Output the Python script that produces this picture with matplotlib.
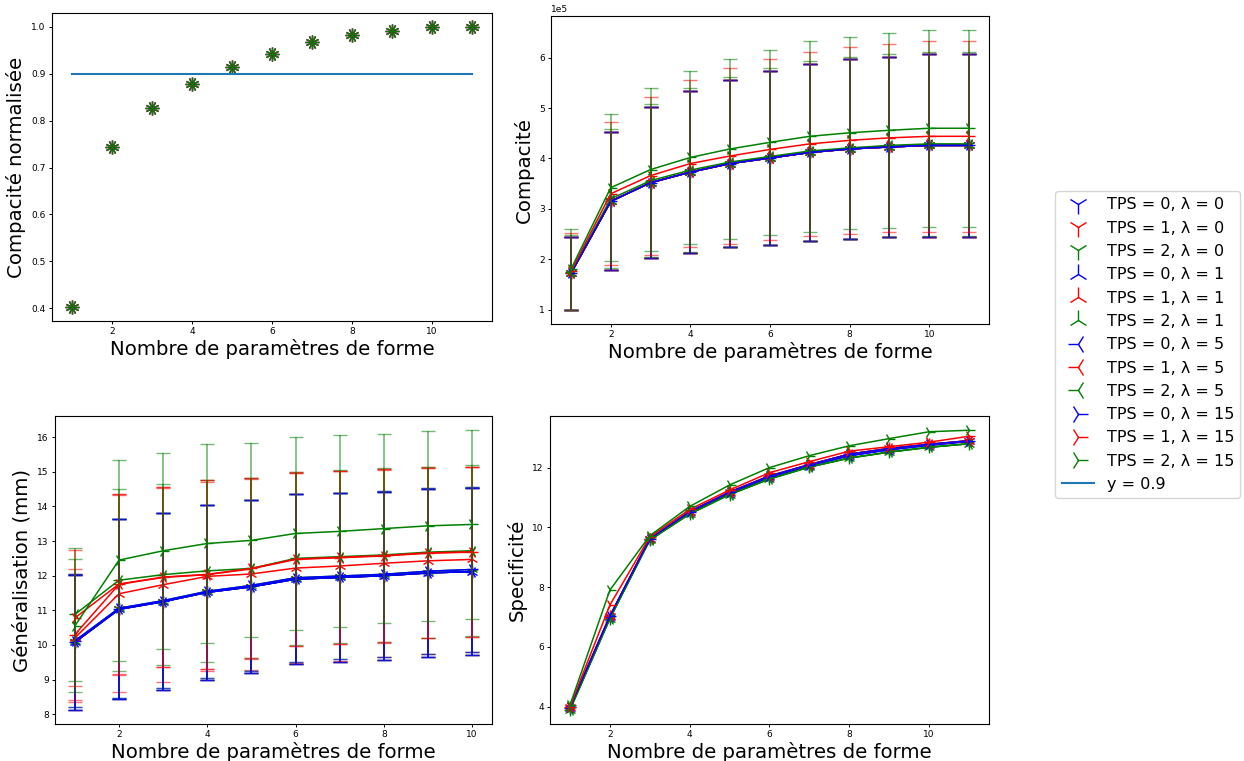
import matplotlib
matplotlib.use('Agg')
import matplotlib.pyplot as plt
import numpy as np

tps_values = [0, 1, 2]
lambdas = [0, 1, 5, 15]
colors = ['blue', 'red', 'green']
markers = ['1', '2', '3', '4']   # one tri marker per lambda

n_params = [1, 2, 3, 4, 5, 6, 7, 8, 9, 10, 11]
n_params_gen = [1, 2, 3, 4, 5, 6, 7, 8, 9, 10]

# --- compacite normalisee (toutes les configs quasi identiques)
norm_compact = [0.402, 0.743, 0.826, 0.879, 0.915, 0.943, 0.967, 0.982, 0.992, 1.0, 1.0]
threshold = 0.9

# --- compacite (x 1e5)
comp_low = [1.72, 3.15, 3.52, 3.73, 3.90, 4.01, 4.12, 4.19, 4.23, 4.26, 4.26]
comp_low_std = [0.73, 1.37, 1.50, 1.61, 1.66, 1.73, 1.76, 1.78, 1.79, 1.82, 1.82]
comp_mid = [1.74, 3.20, 3.56, 3.77, 3.93, 4.04, 4.15, 4.21, 4.26, 4.29, 4.29]
comp_mid_std = [0.74, 1.38, 1.52, 1.63, 1.68, 1.75, 1.78, 1.80, 1.81, 1.83, 1.83]
comp_red = [1.76, 3.30, 3.66, 3.90, 4.05, 4.18, 4.29, 4.36, 4.41, 4.44, 4.44]
comp_red_std = [0.76, 1.42, 1.57, 1.66, 1.74, 1.79, 1.83, 1.86, 1.87, 1.89, 1.89]
comp_green = [1.80, 3.42, 3.78, 4.02, 4.19, 4.32, 4.44, 4.51, 4.56, 4.60, 4.60]
comp_green_std = [0.80, 1.46, 1.62, 1.72, 1.78, 1.84, 1.89, 1.91, 1.94, 1.95, 1.95]

# --- generalisation (mm)
gen_blue = [10.08, 11.03, 11.25, 11.52, 11.68, 11.90, 11.95, 12.00, 12.08, 12.12]
gen_blue_std = [1.95, 2.60, 2.55, 2.53, 2.50, 2.45, 2.43, 2.42, 2.43, 2.40]
gen_blue_hi = [10.12, 11.06, 11.28, 11.55, 11.72, 11.94, 11.99, 12.04, 12.13, 12.18]
gen_blue_hi_std = [1.92, 2.58, 2.52, 2.50, 2.48, 2.42, 2.40, 2.40, 2.40, 2.37]
gen_red_a = [10.30, 11.75, 11.95, 12.03, 12.20, 12.47, 12.52, 12.57, 12.65, 12.68]
gen_red_a_std = [1.90, 2.62, 2.60, 2.72, 2.60, 2.50, 2.50, 2.50, 2.45, 2.45]
gen_red_b = [10.20, 11.48, 11.74, 11.98, 12.05, 12.22, 12.28, 12.36, 12.43, 12.47]
gen_red_b_std = [1.85, 2.85, 2.80, 2.72, 2.78, 2.75, 2.73, 2.70, 2.70, 2.68]
gen_red_c = [10.78, 11.76, 11.96, 12.04, 12.21, 12.48, 12.53, 12.58, 12.66, 12.69]
gen_red_c_std = [1.97, 2.60, 2.60, 2.72, 2.60, 2.50, 2.50, 2.50, 2.45, 2.45]
gen_green_a = [10.55, 12.45, 12.72, 12.93, 13.02, 13.22, 13.28, 13.36, 13.44, 13.48]
gen_green_a_std = [1.92, 2.90, 2.83, 2.86, 2.80, 2.78, 2.77, 2.74, 2.74, 2.72]
gen_green_b = [10.88, 11.87, 12.03, 12.14, 12.21, 12.50, 12.55, 12.60, 12.68, 12.72]
gen_green_b_std = [1.92, 2.63, 2.62, 2.62, 2.60, 2.50, 2.50, 2.50, 2.47, 2.47]

# --- specificite
spec_blue = [3.95, 7.00, 9.60, 10.50, 11.15, 11.68, 12.07, 12.40, 12.60, 12.75, 12.88]
spec_blue_b = [3.98, 7.03, 9.62, 10.53, 11.18, 11.72, 12.10, 12.45, 12.64, 12.78, 12.90]
spec_green_lo = [3.90, 6.95, 9.58, 10.45, 11.10, 11.62, 12.02, 12.32, 12.52, 12.68, 12.80]
spec_red = [4.00, 7.40, 9.68, 10.60, 11.25, 11.83, 12.20, 12.55, 12.70, 12.85, 13.05]
spec_green_hi = [4.05, 7.90, 9.72, 10.70, 11.42, 12.00, 12.40, 12.73, 12.97, 13.20, 13.25]

# order of the series : (TPS0,l0) (TPS1,l0) (TPS2,l0) (TPS0,l1) ... (TPS2,l15)
compact_series = [comp_low, comp_low, comp_low, comp_low, comp_low, comp_low,
                  comp_low, comp_low, comp_mid, comp_low, comp_red, comp_green]
compact_std = [comp_low_std, comp_low_std, comp_low_std, comp_low_std, comp_low_std, comp_low_std,
               comp_low_std, comp_low_std, comp_mid_std, comp_low_std, comp_red_std, comp_green_std]
gen_series = [gen_blue, gen_blue, gen_blue, gen_blue, gen_red_b, gen_blue_hi,
              gen_blue, gen_red_a, gen_green_b, gen_blue_hi, gen_red_c, gen_green_a]
gen_std = [gen_blue_std, gen_blue_std, gen_blue_std, gen_blue_std, gen_red_b_std, gen_blue_hi_std,
           gen_blue_std, gen_red_a_std, gen_green_b_std, gen_blue_hi_std, gen_red_c_std, gen_green_a_std]
spec_series = [spec_blue, spec_blue_b, spec_green_lo, spec_blue, spec_blue_b, spec_green_lo,
               spec_blue, spec_blue_b, spec_green_lo, spec_blue_b, spec_red, spec_green_hi]

fig = plt.figure(figsize=(12.44, 7.61), dpi=100)
ax1 = fig.add_axes([0.0418, 0.578, 0.3537, 0.405])
ax2 = fig.add_axes([0.4429, 0.574, 0.3521, 0.405])
ax3 = fig.add_axes([0.0442, 0.049, 0.3513, 0.404])
ax4 = fig.add_axes([0.4421, 0.049, 0.3529, 0.404])

xlabel = 'Nombre de paramètres de forme'
label_size = 14.2

i = 0
for lam_idx, lam in enumerate(lambdas):
    for tps_idx, tps in enumerate(tps_values):
        c = colors[tps_idx]
        m = markers[lam_idx]
        lab = 'TPS = %d, λ = %d' % (tps, lam)
        ax1.plot(n_params, norm_compact, linestyle='None', marker=m, color=c, ms=10, label=lab)

        y = np.array(compact_series[i]) * 1e5
        e = np.array(compact_std[i]) * 1e5
        ax2.errorbar(n_params, y, yerr=e, fmt='none', ecolor=c, capsize=5, alpha=0.55, elinewidth=1.2)
        ax2.plot(n_params, y, color=c, marker=m, ms=9, lw=1.1)

        ax3.errorbar(n_params_gen, gen_series[i], yerr=gen_std[i], fmt='none', ecolor=c,
                     capsize=5, alpha=0.55, elinewidth=1.2)
        ax3.plot(n_params_gen, gen_series[i], color=c, marker=m, ms=9, lw=1.1)

        ax4.plot(n_params, spec_series[i], color=c, marker=m, ms=9, lw=1.1)
        i += 1

ax1.plot([n_params[0], n_params[-1]], [threshold, threshold], label='y = 0.9')

ax1.set_ylabel('Compacité normalisée', fontsize=label_size)
ax2.set_ylabel('Compacité', fontsize=label_size)
ax3.set_ylabel('Généralisation (mm)', fontsize=label_size)
ax4.set_ylabel('Specificité', fontsize=label_size)
for ax in [ax1, ax2, ax3, ax4]:
    ax.set_xlabel(xlabel, fontsize=label_size, labelpad=2)
    ax.tick_params(labelsize=6.5, length=2.5, width=0.7, pad=2)
ax2.ticklabel_format(axis='y', style='sci', scilimits=(0, 0))
ax2.yaxis.get_offset_text().set_fontsize(6.5)

handles, labels = ax1.get_legend_handles_labels()
fig.legend(handles, labels, loc='center left', bbox_to_anchor=(0.842, 0.547),
           fontsize=11.5, markerscale=1.4, handlelength=2.0, labelspacing=0.52)

plt.savefig('out.png', dpi=100)
